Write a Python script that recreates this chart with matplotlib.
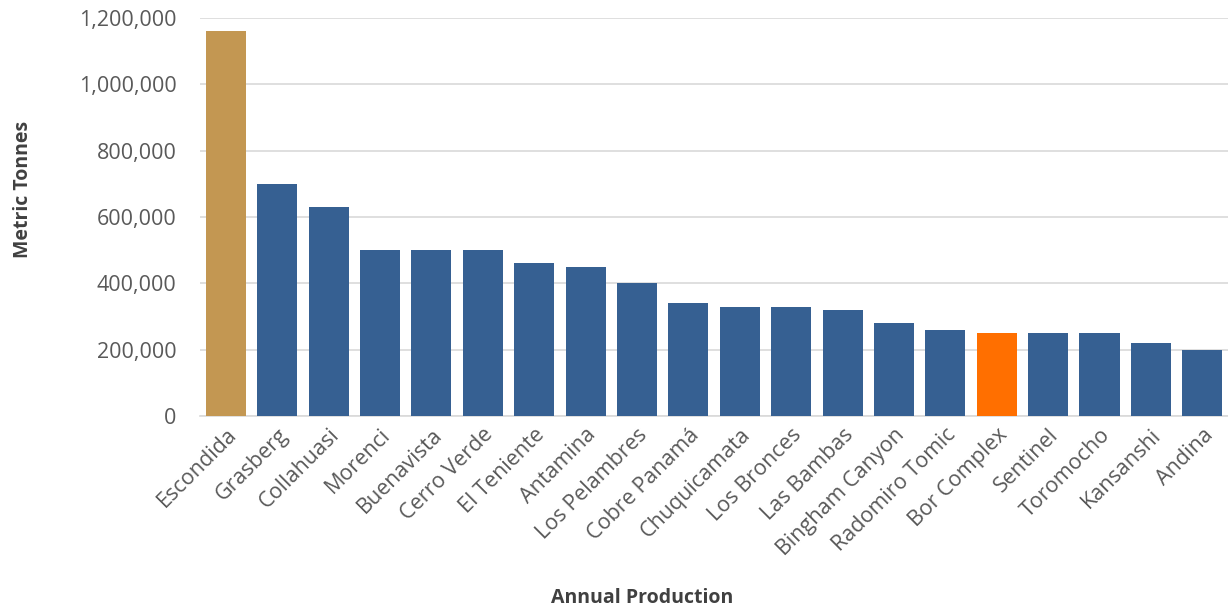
import matplotlib
matplotlib.use("Agg")
import matplotlib.pyplot as plt
from matplotlib.ticker import FuncFormatter

mines = ["Escondida", "Grasberg", "Collahuasi", "Morenci", "Buenavista", "Cerro Verde",
         "El Teniente", "Antamina", "Los Pelambres", "Cobre Panamá", "Chuquicamata",
         "Los Bronces", "Las Bambas", "Bingham Canyon", "Radomiro Tomic", "Bor Complex",
         "Sentinel", "Toromocho", "Kansanshi", "Andina"]
production = [1160000, 700000, 630000, 500000, 500000, 500000, 460000, 450000, 400000,
              340000, 330000, 330000, 320000, 280000, 260000, 250000, 250000, 250000,
              220000, 200000]
y_ticks = [0, 200000, 400000, 600000, 800000, 1000000, 1200000]

BLUE = "#366092"
GOLD = "#C39752"
ORANGE = "#FF6F00"
colors = [BLUE] * len(mines)
colors[0] = GOLD
colors[mines.index("Bor Complex")] = ORANGE

plt.rcParams["font.family"] = ["Open Sans", "DejaVu Sans"]

fig = plt.figure(figsize=(12.28, 6.11), dpi=100)
ax = fig.add_axes([0.163, 0.319, 0.837, 0.652])

x = range(len(mines))
ax.bar(x, production, width=0.78, color=colors, zorder=3)

ax.set_xlim(-0.5, len(mines) - 0.5)
ax.set_ylim(0, 1200000)
ax.set_yticks(y_ticks)
ax.yaxis.set_major_formatter(FuncFormatter(lambda v, p: f"{int(v):,}"))
ax.grid(axis="y", color="#D9D9D9", linewidth=1.2, zorder=0)

for s in ["top", "right", "left"]:
    ax.spines[s].set_visible(False)
ax.spines["bottom"].set_color("#D9D9D9")
ax.spines["bottom"].set_linewidth(1.2)

ax.set_xticks(list(x))
ax.set_xticklabels(mines, rotation=45, ha="right", rotation_mode="anchor")
ax.tick_params(axis="both", length=0, labelsize=15.5, labelcolor="#595959")
ax.tick_params(axis="y", pad=17)
ax.tick_params(axis="x", pad=6)

fig.text(0.0185, 0.69, "Metric Tonnes", rotation=90, ha="center", va="center",
         fontsize=14, fontweight="bold", color="#404040")
fig.text(0.523, 0.022, "Annual Production", ha="center", va="center",
         fontsize=14, fontweight="bold", color="#404040")

fig.savefig("out.png", dpi=100)
